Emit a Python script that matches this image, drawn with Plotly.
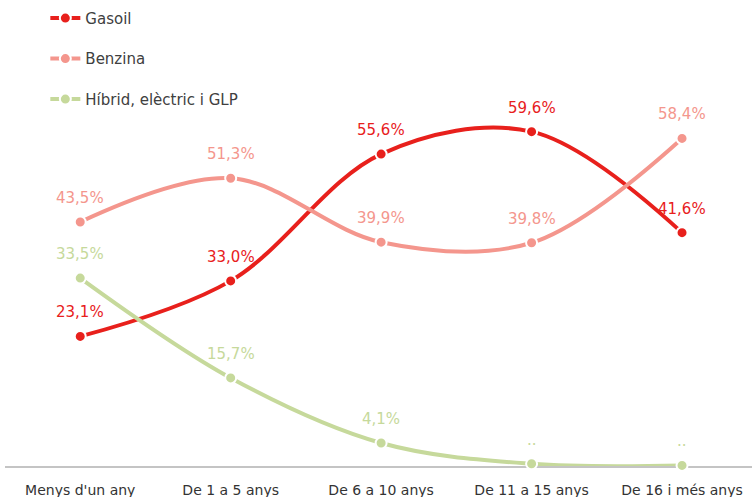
import plotly.graph_objects as go

categories = ["Menys d'un any", "De 1 a 5 anys", "De 6 a 10 anys",
              "De 11 a 15 anys", "De 16 i més anys"]

gasoil = [23.1, 33.0, 55.6, 59.6, 41.6]
benzina = [43.5, 51.3, 39.9, 39.8, 58.4]
hibrid = [33.5, 15.7, 4.1, 0.4, 0.1]
hibrid_labels = ["33,5%", "15,7%", "4,1%", "..", ".."]

series = [
    ("Gasoil", gasoil, None, "#E8201C"),
    ("Benzina", benzina, None, "#F4968D"),
    ("Híbrid, elèctric i GLP", hibrid, hibrid_labels, "#C6D99B"),
]

FONT = "DejaVu Sans"


def pct(v):
    return f"{v:.1f}%".replace(".", ",")


fig = go.Figure()
annotations = []
for i, (name, vals, labels, color) in enumerate(series):
    fig.add_trace(go.Scatter(
        x=categories, y=vals, name=name, mode="lines+markers",
        line=dict(color=color, width=4, shape="spline", smoothing=1),
        marker=dict(size=11, color=color, line=dict(color="white", width=2)),
        cliponaxis=False, legendgroup=f"g{i}",
    ))
    texts = labels if labels else [pct(v) for v in vals]
    for c, v, t in zip(categories, vals, texts):
        annotations.append(dict(
            x=c, y=v, text=t, showarrow=False, yshift=24,
            font=dict(family=FONT, size=15, color=color),
        ))

fig.update_layout(
    width=752, height=497,
    margin=dict(l=5, r=0, t=0, b=31),
    paper_bgcolor="white", plot_bgcolor="white",
    font=dict(family=FONT, size=14, color="#404040"),
    showlegend=True,
    legend=dict(x=0.054, y=0.996, xanchor="left", yanchor="top",
                font=dict(family=FONT, size=15, color="#404040"),
                tracegroupgap=18, bgcolor="rgba(0,0,0,0)"),
    annotations=annotations,
    xaxis=dict(type="category", range=[-0.5, 4.465], showgrid=False,
               zeroline=False, showline=True, linecolor="#C4C4C4",
               linewidth=2, layer="below traces", ticks="",
               ticklabelstandoff=10,
               tickfont=dict(family=FONT, size=14, color="#333333")),
    yaxis=dict(range=[0, 83.07], visible=False, fixedrange=True),
)

fig.write_html("out.html")
